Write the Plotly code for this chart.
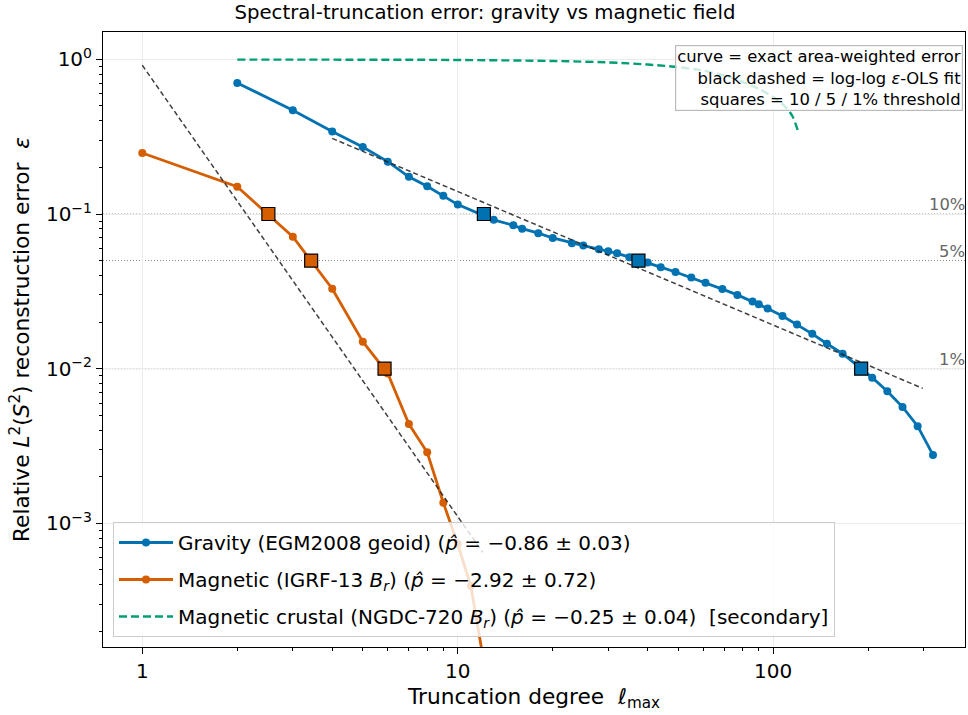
import numpy as np
import plotly.graph_objects as go

# ---------------- data ----------------
grav_l = [2, 3, 4, 5, 6, 7, 8, 9, 10, 13, 15, 16, 18, 20, 23, 25, 28, 30, 32, 35,
          40, 44, 49, 55, 61, 69, 77, 86, 90, 96, 107, 119, 133, 148, 166, 206,
          230, 257, 287, 321]
grav_eps = [0.703, 0.469, 0.341, 0.271, 0.218, 0.174, 0.151, 0.131, 0.115, 0.0917,
            0.0845, 0.0804, 0.0752, 0.0700, 0.0648, 0.0625, 0.0592, 0.0574, 0.0557,
            0.0526, 0.0485, 0.0453, 0.0422, 0.0388, 0.0359, 0.0327, 0.0300, 0.0272,
            0.0261, 0.0245, 0.0219, 0.0193, 0.0168, 0.0145, 0.0125, 0.00875, 0.00714,
            0.00566, 0.00425, 0.00277]

mag_l = [1, 2, 3, 4, 5, 6, 7, 8, 9, 10, 11, 12]
mag_eps = [0.248, 0.150, 0.0713, 0.0329, 0.01495, 0.0093, 0.00439, 0.00288,
           0.00136, 0.000736, 0.000394, 0.00014]

crust_l = [2, 5, 10, 20, 30, 40, 50, 60, 70, 80, 90, 100, 105, 110, 115, 120]
crust_eps = [0.995, 0.994, 0.99, 0.975, 0.955, 0.925, 0.89, 0.845, 0.785, 0.715,
             0.645, 0.57, 0.53, 0.485, 0.43, 0.34]

# log-log fit lines (end points)
grav_fit_l = [4, 298]
grav_fit_eps = [0.308, 0.00746]
mag_fit_l = [1, 12]
mag_fit_eps = [0.915, 0.00065]

# threshold crossings (squares)
thresholds = [0.10, 0.05, 0.01]
threshold_labels = ["10%", "5%", "1%"]
grav_sq_l = [12.1, 37.4, 190]
mag_sq_l = [2.51, 3.43, 5.86]

# tick labels
x_ticks = [1, 10, 100]
x_ticktext = ["1", "10", "100"]
y_ticks = [1, 0.1, 0.01, 0.001]
y_ticktext = ["10<sup>0</sup>", "10<sup>\u22121</sup>", "10<sup>\u22122</sup>", "10<sup>\u22123</sup>"]

BLUE = "#0072B2"
ORANGE = "#D55E00"
GREEN = "#009E73"
FONT = "DejaVu Sans"

x_minor = [m * 10 ** e for e in range(0, 3) for m in range(2, 10) if m * 10 ** e < 400]
y_minor = [m * 10.0 ** e for e in range(-4, 0) for m in range(2, 10) if m * 10.0 ** e > 1.6e-4]

fig = go.Figure()

fig.add_trace(go.Scatter(
    x=grav_l, y=grav_eps, mode="lines+markers", legendgroup="g",
    name="Gravity (EGM2008 geoid) (<i>p\u0302</i> = \u22120.86 \u00b1 0.03)",
    line=dict(color=BLUE, width=2.8), marker=dict(size=8, color=BLUE)))
fig.add_trace(go.Scatter(
    x=mag_l, y=mag_eps, mode="lines+markers", legendgroup="m",
    name="Magnetic (IGRF-13 <i>B<sub>r</sub></i>) (<i>p\u0302</i> = \u22122.92 \u00b1 0.72)",
    line=dict(color=ORANGE, width=2.8), marker=dict(size=8, color=ORANGE)))
fig.add_trace(go.Scatter(
    x=crust_l, y=crust_eps, mode="lines", legendgroup="c", line_shape="spline",
    name="Magnetic crustal (NGDC-720 <i>B<sub>r</sub></i>) (<i>p\u0302</i> = \u22120.25 \u00b1 0.04)\u00a0\u00a0[secondary]",
    line=dict(color=GREEN, width=2.4, dash="8px,4px")))

for fl, fe in [(grav_fit_l, grav_fit_eps), (mag_fit_l, mag_fit_eps)]:
    fig.add_trace(go.Scatter(x=fl, y=fe, mode="lines", showlegend=False,
                             line=dict(color="rgba(30,30,30,0.85)", width=1.5, dash="5px,3px")))

for sl, col in [(grav_sq_l, BLUE), (mag_sq_l, ORANGE)]:
    fig.add_trace(go.Scatter(x=sl, y=thresholds, mode="markers", showlegend=False,
                             marker=dict(symbol="square", size=13, color=col,
                                         line=dict(color="black", width=1.2))))

for t, lab in zip(thresholds, threshold_labels):
    fig.add_shape(type="line", xref="x domain", x0=0, x1=1, yref="y", y0=t, y1=t,
                  line=dict(color="#888888", width=1.1, dash="1px,2px"), layer="below")
    fig.add_annotation(xref="paper", x=1.002, yref="y", y=np.log10(t), text=lab,
                       showarrow=False, xanchor="right", yanchor="bottom", yshift=-2,
                       font=dict(family=FONT, size=16.4, color="#666666"))

fig.add_annotation(
    xref="paper", yref="paper", x=0.9977, y=0.979, xanchor="right", yanchor="top",
    text="curve = exact area-weighted error<br>black dashed = log-log <i>\u03b5</i>-OLS fit<br>squares = 10 / 5 / 1% threshold",
    align="right", showarrow=False, font=dict(family=FONT, size=16.4, color="black"),
    bgcolor="rgba(255,255,255,0.8)", bordercolor="#bbbbbb", borderwidth=1.2, borderpad=1)

axis_common = dict(type="log", showline=True, linecolor="black", linewidth=1, mirror=True,
                   ticks="outside", ticklen=6, tickcolor="black", tickwidth=1,
                   showgrid=True, gridcolor="#ebebeb", gridwidth=1, zeroline=False,
                   tickfont=dict(family=FONT, size=20, color="black"))

fig.update_xaxes(**axis_common, range=[-0.1246, 2.608], tickmode="array",
                 tickvals=x_ticks, ticktext=x_ticktext,
                 minor=dict(tickmode="array", tickvals=x_minor, ticks="outside", ticklen=3,
                            tickcolor="black", showgrid=False),
                 title=dict(text="Truncation degree\u00a0\u00a0<i>\u2113</i><sub>max</sub>",
                            font=dict(family=FONT, size=21.7, color="black"), standoff=6))
fig.update_yaxes(**axis_common, range=[-3.799, 0.1765], tickmode="array",
                 tickvals=y_ticks, ticktext=y_ticktext,
                 minor=dict(tickmode="array", tickvals=y_minor, ticks="outside", ticklen=3,
                            tickcolor="black", showgrid=False),
                 title=dict(text="Relative <i>L</i><sup>2</sup>(<i>S</i><sup>2</sup>) reconstruction error\u00a0\u00a0<i>\u03b5</i>",
                            font=dict(family=FONT, size=21.7, color="black"), standoff=10))

fig.update_layout(
    width=968, height=715, margin=dict(l=103, r=3, t=32, b=68),
    paper_bgcolor="white", plot_bgcolor="white",
    font=dict(family=FONT, color="black"),
    title=dict(text="Spectral-truncation error: gravity vs magnetic field",
               x=0.501, xref="container", xanchor="center", y=0.983, yref="container",
               yanchor="middle", font=dict(family=FONT, size=19.7, color="black")),
    legend=dict(x=0.0116, y=0.0163, xanchor="left", yanchor="bottom",
                bgcolor="rgba(255,255,255,0.8)", bordercolor="#cccccc", borderwidth=1,
                font=dict(family=FONT, size=20, color="black"),
                tracegroupgap=8, itemwidth=54, traceorder="grouped"),
    showlegend=True,
)

fig.write_html("out.html", config={"displayModeBar": False},
               post_script="document.body.style.margin='0px';")
